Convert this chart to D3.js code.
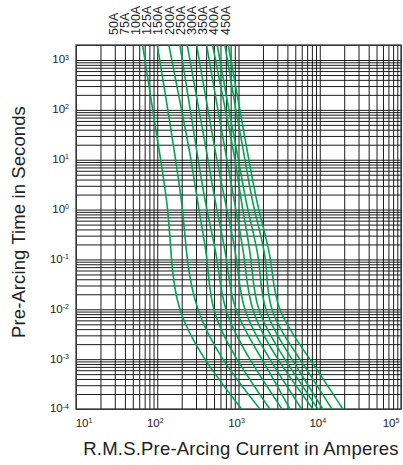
<!DOCTYPE html>
<html lang="en">
<head>
<meta charset="UTF-8">
<title>Pre-Arcing Time-Current Curves</title>
<style>
    body { margin: 0; background: #fff; }
    text { font-family: "Liberation Sans", Arial, Helvetica, sans-serif; fill: #222; }
</style>
</head>
<body>
<div id="chart"></div>
<script src="https://cdn.jsdelivr.net/npm/d3@7/dist/d3.min.js"></script>
<script>
    // fuse ratings, one curve each
    const ratings = ["50A", "75A", "100A", "125A", "150A", "200A", "250A", "300A", "350A", "400A", "450A"];
    // pre-arcing times (s) where currents were read
    const times = [2000, 100, 10, 1, 0.1, 0.01, 0.001, 0.0001];
    // r.m.s. current (A) for each rating at the times above
    const i50 = [66, 88, 110, 134, 150, 190, 386, 1090];
    const i75 = [100, 135, 168, 204, 235, 317, 643, 1830];
    const i100 = [139, 199, 260, 326, 408, 498, 955, 2430];
    const i125 = [190, 255, 319, 408, 542, 700, 1380, 3420];
    const i150 = [234, 326, 421, 542, 710, 929, 1940, 4290];
    const i200 = [305, 421, 542, 720, 942, 1200, 2430, 5970];
    const i250 = [405, 558, 720, 929, 1180, 1500, 3050, 8230];
    const i300 = [480, 690, 903, 1130, 1420, 1780, 3720, 9480];
    const i350 = [547, 762, 997, 1305, 1760, 2170, 4540, 10900];
    const i400 = [680, 929, 1200, 1570, 2140, 2580, 5690, 14100];
    const i450 = [747, 1040, 1340, 1780, 2470, 3230, 7550, 19200];
    const currents = [i50, i75, i100, i125, i150, i200, i250, i300, i350, i400, i450];

    // axis ticks (powers of ten)
    const xExp = [1, 2, 3, 4, 5];
    const yExp = [-4, -3, -2, -1, 0, 1, 2, 3];

    const width = 403, height = 465;
    const pLeft = 76, pRight = 401, pTop = 45, pBottom = 409;

    const svg = d3.select("#chart")
        .append("svg")
        .attr("width", width)
        .attr("height", height);

    const x = d3.scaleLog().domain([10, 1e5]).range([pLeft, pRight]);
    const y = d3.scaleLog().domain([1e-4, 2000]).range([pBottom, pTop]);

    // grid values: 1..9 x 10^n
    const xGrid = [];
    xExp.slice(0, -1).forEach(e => d3.range(1, 10).forEach(m => xGrid.push(m * Math.pow(10, e))));
    xGrid.push(1e5);
    const yGrid = [];
    yExp.slice(0, -1).forEach(e => d3.range(1, 10).forEach(m => yGrid.push(m * Math.pow(10, e))));
    yGrid.push(1000, 2000);

    // vertical grid
    const gx = svg.append("g")
        .attr("transform", `translate(0, ${pBottom})`)
        .call(d3.axisBottom(x).tickValues(xGrid).tickSize(-(pBottom - pTop)).tickFormat(""));
    // horizontal grid
    const gy = svg.append("g")
        .attr("transform", `translate(${pLeft}, 0)`)
        .call(d3.axisLeft(y).tickValues(yGrid).tickSize(-(pRight - pLeft)).tickFormat(""));
    [gx, gy].forEach(g => {
        g.select(".domain").remove();
        g.selectAll(".tick line").attr("stroke", "#1c1c1c").attr("stroke-width", 1);
    });

    svg.append("rect")
        .attr("x", pLeft).attr("y", pTop)
        .attr("width", pRight - pLeft).attr("height", pBottom - pTop)
        .attr("fill", "none").attr("stroke", "#444").attr("stroke-width", 1.4);

    // curves
    svg.append("clipPath").attr("id", "plot")
        .append("rect")
        .attr("x", pLeft).attr("y", pTop)
        .attr("width", pRight - pLeft).attr("height", pBottom - pTop);

    const line = d3.line()
        .x(d => x(d[0]))
        .y(d => y(d[1]))
        .curve(d3.curveNatural);

    svg.append("g")
        .attr("clip-path", "url(#plot)")
        .selectAll("path")
        .data(currents)
        .join("path")
        .attr("d", c => line(c.map((v, i) => [v, times[i]])))
        .attr("fill", "none")
        .attr("stroke", "#00a651")
        .attr("stroke-width", 1.6);

    // tick labels 10^n
    function power(sel, e) {
        sel.append("tspan").text("10");
        sel.append("tspan").attr("font-size", 7).attr("dy", "-0.55em").text(e);
    }

    svg.append("g").selectAll("text")
        .data(xExp)
        .join("text")
        .attr("x", (e, i) => x(Math.pow(10, e)) + (i === 0 ? 8 : i === xExp.length - 1 ? -10 : -2))
        .attr("y", 427)
        .attr("text-anchor", "middle")
        .attr("font-size", 11.5)
        .each(function (e) { power(d3.select(this), e); });

    svg.append("g").selectAll("text")
        .data(yExp)
        .join("text")
        .attr("x", 69)
        .attr("y", e => y(Math.pow(10, e)))
        .attr("dy", "0.3em")
        .attr("text-anchor", "end")
        .attr("font-size", 11.5)
        .each(function (e) { power(d3.select(this), e); });

    // rating labels along the top
    const lx = d3.scalePoint().domain(ratings).range([113, 225]);
    svg.append("g").selectAll("text")
        .data(ratings)
        .join("text")
        .attr("transform", d => `translate(${lx(d)}, 35) rotate(-90)`)
        .attr("dy", "0.36em")
        .attr("font-size", 12.5)
        .text(d => d);

    // axis titles
    svg.append("text")
        .attr("transform", `translate(25, 222) rotate(-90)`)
        .attr("text-anchor", "middle")
        .attr("font-size", 18.5)
        .attr("letter-spacing", 0.1)
        .text("Pre-Arcing Time in Seconds");

    svg.append("text")
        .attr("x", 241)
        .attr("y", 455)
        .attr("text-anchor", "middle")
        .attr("font-size", 18.5)
        .attr("letter-spacing", 0.2)
        .text("R.M.S.Pre-Arcing Current in Amperes");
</script>
</body>
</html>
